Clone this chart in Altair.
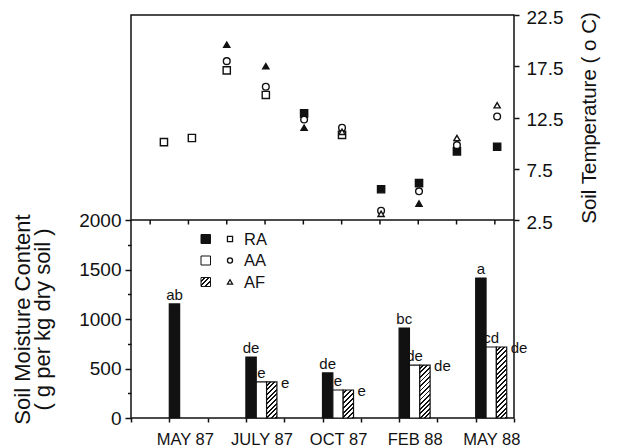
import math
import altair as alt
import pandas as pd

# ---------------- data ----------------
months = ["MAY 87", "JULY 87", "OCT 87", "FEB 88", "MAY 88"]
series = ["RA", "AA", "AF"]

moist_RA = [1152, 616, 455, 909, 1414]
moist_AA = [None, 364, 283, 535, 717]
moist_AF = [None, 364, 283, 535, 717]
sig_RA = ["ab", "de", "de", "bc", "a"]
sig_AA = [None, "e", "e", "de", "cd"]
sig_AF = [None, "e", "e", "de", "de"]

temp_pos = [0.86, 1.59, 2.5, 3.52, 4.52, 5.51, 6.53, 7.52, 8.51, 9.56]
temp_RA = [10.1, 10.5, 17.1, 14.7, 12.9, 10.8, 5.5, 6.1, 9.2, 9.65]
temp_AA = [None, None, 18.0, 15.5, 12.3, 11.5, 3.4, 5.3, 9.8, 12.6]
temp_AF = [None, None, 19.6, 17.5, 11.5, 11.1, 3.1, 4.1, 10.5, 13.7]
filled_RA = [0, 0, 0, 0, 1, 0, 1, 1, 1, 1]
filled_AA = [0, 0, 0, 0, 0, 0, 0, 0, 0, 0]
filled_AF = [0, 0, 1, 1, 1, 0, 0, 1, 0, 0]

temp_ticks = [2.5, 7.5, 12.5, 17.5, 22.5]
moist_ticks = list(range(0, 2001, 250))

# ---------------- layout / style ----------------
W, H = 383, 403
HT = 205
HB = H - HT
NSLOT = 10
BAR_W = 0.27
LABEL_SHIFT = 0.42
INK = "#111111"
FONT = "Liberation Sans"
SHAPES = {"RA": "square", "AA": "circle", "AF": "triangle-up"}
SIZES = {"RA": 52, "AA": 38, "AF": 58}

# ---------------- tables ----------------
rows = []
for i, m in enumerate(months):
    g = 2 * i + 1
    for k, (s, vals, sig) in enumerate(zip(series, [moist_RA, moist_AA, moist_AF],
                                           [sig_RA, sig_AA, sig_AF])):
        v = vals[i]
        if v is None:
            continue
        x0 = g + k * BAR_W
        rows.append(dict(month=m, series=s, x0=x0, x1=x0 + BAR_W,
                         xc=x0 + BAR_W / 2, value=v, sig=sig[i]))
bars_df = pd.DataFrame(rows)
month_df = pd.DataFrame({"month": months,
                         "xm": [2 * i + 1 + LABEL_SHIFT for i in range(len(months))]})

trows = []
for s, vals, fl in zip(series, [temp_RA, temp_AA, temp_AF], [filled_RA, filled_AA, filled_AF]):
    for p, v, f in zip(temp_pos, vals, fl):
        if v is None:
            continue
        trows.append(dict(series=s, pos=p, temp=v, filled=f))
temp_df = pd.DataFrame(trows)
half_df = pd.DataFrame({"p": [k + 0.5 for k in range(NSLOT)]})

# ---------------- scales & axes ----------------
xs = alt.Scale(domain=[0, NSLOT], nice=False, zero=False)
ym = alt.Scale(domain=[0, 2000], range=[H, HT], nice=False, zero=False)
yt = alt.Scale(domain=[2.5, 22.5], range=[HT, 0], nice=False, zero=False)

x_axis = alt.Axis(orient="bottom", values=list(range(NSLOT + 1)), labels=False,
                  tickSize=4, tickWidth=1.5, tickColor=INK, domain=False,
                  grid=False, title=None)
ym_axis = alt.Axis(orient="left", values=moist_ticks, format="d",
                   labelExpr="datum.value % 500 ? '' : datum.label",
                   tickSize={"condition": {"test": "datum.value % 500 != 0", "value": 3.5},
                             "value": 6},
                   tickWidth=1.5, tickColor=INK, labelFont=FONT, labelFontSize=19,
                   labelColor=INK, labelPadding=4, domain=False, grid=False,
                   title=["Soil Moisture Content", "( g per kg dry soil )"],
                   titleFont=FONT, titleFontSize=22, titleFontWeight="normal",
                   titleColor=INK, titlePadding=24, titleLineHeight=20)
yt_axis = alt.Axis(orient="right", values=temp_ticks, format=".1f",
                   tickSize=5, tickWidth=1.5, tickColor=INK, labelFont=FONT,
                   labelFontSize=19, labelColor=INK, labelPadding=7, labelOffset=2,
                   domain=False, grid=False, title="Soil Temperature ( o C)",
                   titleAngle=270, titleBaseline="top", titleFont=FONT,
                   titleFontSize=20.5, titleFontWeight="normal", titleColor=INK,
                   titlePadding=17)


def hatch(w, h, period=3.3, frac=0.42):
    r = h / w
    a = (1 + r) / (1 + r * r)
    n = max(1, round((w + h) / (math.sqrt(2) * period)))
    stops = []
    for j in range(n):
        o0, om, o1 = j / n, (j + 1 - frac) / n, (j + 1) / n
        stops += [alt.GradientStop(color="white", offset=o0),
                  alt.GradientStop(color="white", offset=om),
                  alt.GradientStop(color=INK, offset=om),
                  alt.GradientStop(color=INK, offset=o1)]
    return alt.LinearGradient(gradient="linear", stops=stops, x1=0, y1=0, x2=a, y2=a * r)


# ---------------- bottom panel ----------------
X = lambda f: alt.X(f, scale=xs, axis=x_axis)
YM = alt.Y("value:Q", scale=ym, axis=ym_axis)

solid = alt.Chart(bars_df).transform_filter("datum.series != 'AF'").mark_rect(
    stroke=INK, strokeWidth=1.2).encode(
    x=X("x0:Q"), x2="x1:Q", y=YM, y2=alt.datum(0),
    fill=alt.Fill("series:N", scale=alt.Scale(domain=["RA", "AA"], range=[INK, "white"]),
                  legend=None))

bar_px = BAR_W * W / NSLOT
hatch_layers = []
for _, r in bars_df[bars_df.series == "AF"].iterrows():
    hpx = r["value"] / 2000 * HB
    hatch_layers.append(
        alt.Chart(bars_df).transform_filter(
            f"datum.series == 'AF' && datum.month == '{r['month']}'").mark_rect(
            fill=hatch(bar_px, hpx), stroke=INK, strokeWidth=1.2).encode(
            x=X("x0:Q"), x2="x1:Q", y=YM, y2=alt.datum(0)))

sig_above = alt.Chart(bars_df).transform_filter("datum.series != 'AF'").mark_text(
    font=FONT, fontSize=15, color=INK, baseline="alphabetic", dy=-4).encode(
    x=X("xc:Q"), y=YM, text="sig:N")
sig_right = alt.Chart(bars_df).transform_filter("datum.series == 'AF'").mark_text(
    font=FONT, fontSize=15, color=INK, align="left", baseline="middle", dx=4, dy=1).encode(
    x=X("x1:Q"), y=YM, text="sig:N")

month_text = alt.Chart(month_df).mark_text(
    font=FONT, fontSize=16.5, color=INK, baseline="alphabetic").encode(
    x=X("xm:Q"), y=alt.value(H + 27), text="month:N")

legend_layers = []
LEG_Y0, LEG_DY = 224, 21.5
swatch_fill = {"RA": INK, "AA": "white", "AF": hatch(9.5, 9.0, period=3.0)}
for i, s in enumerate(series):
    cy = LEG_Y0 + i * LEG_DY
    ldf = pd.DataFrame({"series": [s]})
    legend_layers.append(alt.Chart(ldf).mark_rect(
        fill=swatch_fill[s], stroke=INK, strokeWidth=1).encode(
        x=alt.value(70), x2=alt.value(79.5), y=alt.value(cy - 4.5), y2=alt.value(cy + 4.5)))
    legend_layers.append(alt.Chart(ldf).mark_point(
        filled=True, fill="white", stroke=INK, strokeWidth=1.3, opacity=1,
        shape=SHAPES[s], size=26).encode(x=alt.value(99), y=alt.value(cy)))
    legend_layers.append(alt.Chart(ldf).mark_text(
        font=FONT, fontSize=16.5, color=INK, align="left", baseline="middle").encode(
        x=alt.value(113), y=alt.value(cy + 0.5), text="series:N"))

bottom = alt.layer(solid, *hatch_layers, sig_above, sig_right, month_text, *legend_layers)

# ---------------- top panel ----------------
divider = alt.Chart(pd.DataFrame({"p": [0]})).mark_rule(color=INK, strokeWidth=1.5).encode(
    x=alt.value(0), x2=alt.value(W), y=alt.value(HT))
half_ticks = alt.Chart(half_df).mark_rule(color=INK, strokeWidth=1.5).encode(
    x=X("p:Q"), y=alt.value(HT), y2=alt.value(HT + 4.5))
points = alt.Chart(temp_df).mark_point(filled=True, strokeWidth=1.4, opacity=1).encode(
    x=X("pos:Q"),
    y=alt.Y("temp:Q", scale=yt, axis=yt_axis),
    shape=alt.Shape("series:N", scale=alt.Scale(domain=series,
                                                range=[SHAPES[s] for s in series]), legend=None),
    size=alt.Size("series:N", scale=alt.Scale(domain=series,
                                              range=[SIZES[s] for s in series]), legend=None),
    fill=alt.condition("datum.filled == 1", alt.value(INK), alt.value("white")),
    stroke=alt.value(INK))

top = alt.layer(divider, half_ticks, points)

chart = alt.layer(bottom, top).resolve_scale(y="independent").properties(
    width=W, height=H,
    padding={"left": 123, "top": 7, "right": 101, "bottom": 30},
    autosize=alt.AutoSizeParams(type="none"),
).configure_view(stroke=INK, strokeWidth=1.5)

chart.save("out.html", embed_options={"renderer": "svg", "actions": False})
